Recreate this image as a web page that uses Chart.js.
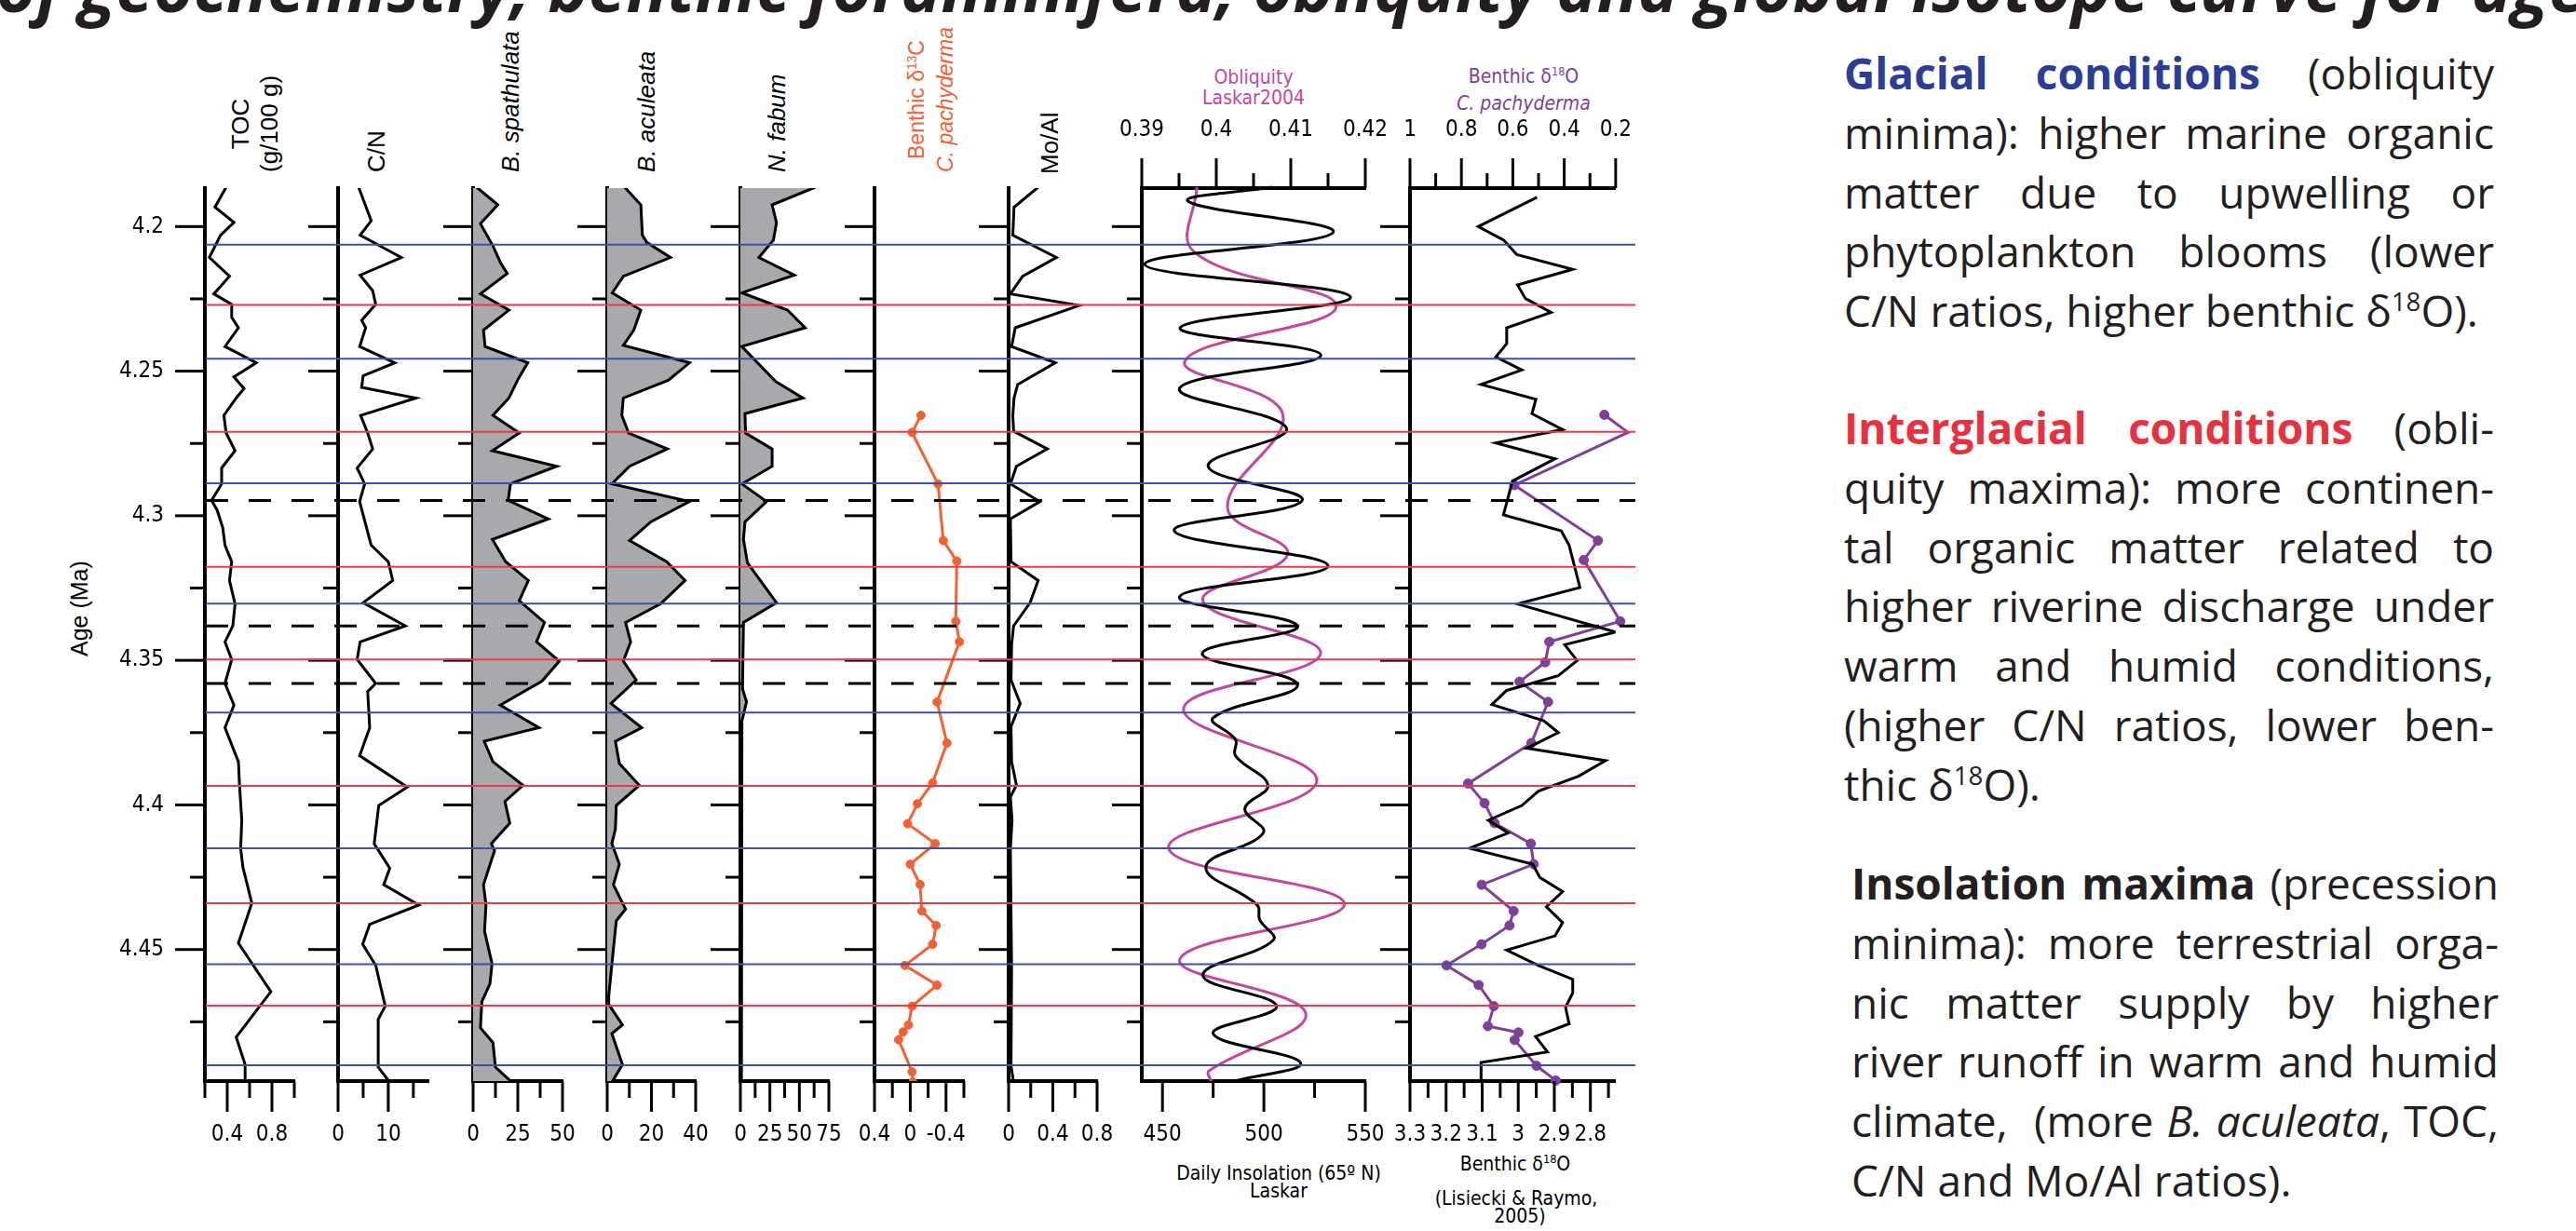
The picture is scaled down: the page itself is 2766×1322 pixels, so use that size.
<!DOCTYPE html>
<html>
<head>
<meta charset="utf-8">
<script src="https://cdn.jsdelivr.net/npm/chart.js"></script>
<style>
  html, body { margin: 0; padding: 0; background: #fff; }
  body { width: 2766px; height: 1322px; position: relative; overflow: hidden;
         font-family: 'Liberation Sans', Arial, sans-serif; color: #000; }
  canvas.layer { position: absolute; left: 0; top: 0; }
  .lbl { position: absolute; white-space: nowrap; }
  .narrow { font-family: 'Liberation Sans Narrow', 'DejaVu Sans Condensed', sans-serif; }
  .rot { position: absolute; white-space: nowrap; transform-origin: 0 0; transform: rotate(-90deg);
         font-size: 26px; line-height: 31px; text-align: center; }
  .para { position: absolute; font-family: 'Open Sans', sans-serif; font-size: 46px;
          line-height: 63.8px; color: #231f20; }
  .para .j { text-align: justify; text-align-last: justify; }
  sup { font-size: 0.6em; line-height: 0; vertical-align: 0.6em; }
  #title { position: absolute; left: -4px; top: -52px; white-space: nowrap; color: #231f20;
           font: italic 700 73px/73px 'Open Sans', sans-serif; }
</style>
</head>
<body>

<div id="title">of geochemistry, benthic foraminifera, obliquity and global isotope curve for age</div>

<!-- column headers -->
<div class="rot" style="left:242.5px; top:185px">TOC<br>(g/100 g)</div>
<div class="rot" style="left:388.5px; top:185px">C/N</div>
<div class="rot" style="left:532.5px; top:185px"><i>B. spathulata</i></div>
<div class="rot" style="left:678.5px; top:185px"><i>B. aculeata</i></div>
<div class="rot" style="left:818.5px; top:185px"><i>N. fabum</i></div>
<div class="rot" style="left:968.5px; top:185px; font-size:23px; color:#f26131">Benthic δ<sup>13</sup>C<br><i>C. pachyderma</i></div>
<div class="rot" style="left:1111.5px; top:187px">Mo/Al</div>
<div class="rot" style="left:70px; top:705px; font-size:25px; line-height:30px">Age (Ma)</div>

<div class="lbl narrow" style="left:1246px; top:72px; width:200px; text-align:center; font-size:21px; line-height:22px; color:#c4479c">Obliquity<br>Laskar2004</div>
<div class="lbl narrow" style="left:1536px; top:71px; width:200px; text-align:center; font-size:21px; line-height:22px; color:#80409a">Benthic δ<sup>18</sup>O</div>
<div class="lbl narrow" style="left:1536px; top:100px; width:200px; text-align:center; font-size:21px; line-height:22px; color:#80409a"><i>C. pachyderma</i></div>

<div class="lbl narrow" style="left:1223px; top:1249px; width:300px; text-align:center; font-size:21px; line-height:22px">Daily Insolation (65º N)</div>
<div class="lbl narrow" style="left:1223px; top:1268px; width:300px; text-align:center; font-size:21px; line-height:22px">Laskar</div>
<div class="lbl narrow" style="left:1477px; top:1239px; width:300px; text-align:center; font-size:21px; line-height:22px">Benthic δ<sup>18</sup>O</div>
<div class="lbl narrow" style="left:1478px; top:1276px; width:300px; text-align:center; font-size:21px; line-height:22px">(Lisiecki &amp; Raymo,</div>
<div class="lbl narrow" style="left:1482px; top:1295px; width:300px; text-align:center; font-size:21px; line-height:22px">2005)</div>

<!-- explanatory text -->
<div class="para" style="left:1980px; top:47px; width:698px">
  <div class="j"><b style="color:#2b3d97">Glacial conditions</b> (obliquity</div>
  <div class="j">minima): higher marine organic</div>
  <div class="j">matter due to upwelling or</div>
  <div class="j">phytoplankton blooms (lower</div>
  <div>C/N ratios, higher benthic δ<sup>18</sup>O).</div>
</div>
<div class="para" style="left:1980px; top:428px; width:698px">
  <div class="j"><b style="color:#e8313e">Interglacial conditions</b> (obli-</div>
  <div class="j">quity maxima): more continen-</div>
  <div class="j">tal organic matter related to</div>
  <div class="j">higher riverine discharge under</div>
  <div class="j">warm and humid conditions,</div>
  <div class="j">(higher C/N ratios, lower ben-</div>
  <div>thic δ<sup>18</sup>O).</div>
</div>
<div class="para" style="left:1988px; top:917px; width:695px">
  <div class="j"><b>Insolation maxima</b> (precession</div>
  <div class="j">minima): more terrestrial orga-</div>
  <div class="j">nic matter supply by higher</div>
  <div class="j">river runoff in warm and humid</div>
  <div class="j">climate,&nbsp; (more <i>B. aculeata</i>, TOC,</div>
  <div>C/N and Mo/Al ratios).</div>
</div>

<script>
// ---- age axis (Ma) ----
const ageTicks = [4.2, 4.25, 4.3, 4.35, 4.4, 4.45];
const ageMinor = [4.225, 4.275, 4.325, 4.375, 4.425, 4.475];

// ---- TOC (g/100 g) ----
const tocAge = [4.1864, 4.1933, 4.1986, 4.2030, 4.2107, 4.2172, 4.2233, 4.2269, 4.2314, 4.2350, 4.2415,
  4.2471, 4.2520, 4.2560, 4.2593, 4.2653, 4.2714, 4.2775, 4.2835, 4.2890, 4.2947, 4.2981, 4.3042, 4.3102,
  4.3159, 4.3224, 4.3305, 4.3381, 4.3436, 4.3497, 4.3580, 4.3655, 4.3733, 4.3851, 4.3932, 4.4053, 4.4150,
  4.4215, 4.4340, 4.4478, 4.4646, 4.4803, 4.4898, 4.4959];
const tocValue = [0.39, 0.29, 0.46, 0.34, 0.24, 0.42, 0.28, 0.44, 0.44, 0.50, 0.38,
  0.66, 0.46, 0.55, 0.48, 0.37, 0.39, 0.47, 0.35, 0.35, 0.26, 0.31, 0.36, 0.38,
  0.44, 0.42, 0.47, 0.45, 0.38, 0.44, 0.38, 0.46, 0.38, 0.50, 0.51, 0.53, 0.52,
  0.54, 0.62, 0.50, 0.79, 0.48, 0.56, 0.56];
const tocTicks = [0.4, 0.8];
const tocMinor = [0.2, 0.6, 1.0];

// ---- C/N ----
const cnAge = [4.1864, 4.1980, 4.2030, 4.2107, 4.2168, 4.2222, 4.2269, 4.2324, 4.2350, 4.2415, 4.2471,
  4.2516, 4.2556, 4.2593, 4.2653, 4.2714, 4.2769, 4.2835, 4.2890, 4.2951, 4.3102, 4.3159, 4.3224, 4.3301,
  4.3381, 4.3436, 4.3497, 4.3580, 4.3608, 4.3733, 4.3830, 4.3938, 4.4002, 4.4134, 4.4219, 4.4276, 4.4346,
  4.4413, 4.4482, 4.4555, 4.4696, 4.4741, 4.4907, 4.4959];
const cnValue = [4.1, 6.6, 4.4, 12.6, 4.4, 6.9, 7.5, 4.7, 5.5, 4.3, 11.3,
  5.0, 4.7, 15.5, 4.5, 5.9, 6.9, 3.8, 5.3, 4.3, 6.6, 10.0, 10.9, 5.0,
  13.4, 4.4, 3.8, 7.5, 5.9, 6.3, 4.3, 13.8, 8.1, 7.2, 10.3, 9.1, 16.1,
  6.3, 4.9, 7.5, 9.4, 8.0, 8.0, 10.3];
const cnTicks = [0, 10];
const cnMinor = [5, 15];

// ---- B. spathulata (%) ----
const bsAge = [4.1864, 4.1925, 4.1990, 4.2067, 4.2127, 4.2162, 4.2233, 4.2289, 4.2358, 4.2415, 4.2471,
  4.2526, 4.2593, 4.2653, 4.2714, 4.2775, 4.2829, 4.2890, 4.2947, 4.3011, 4.3082, 4.3159, 4.3224, 4.3294,
  4.3369, 4.3436, 4.3503, 4.3572, 4.3655, 4.3733, 4.3780, 4.3851, 4.3932, 4.3988, 4.4063, 4.4134, 4.4158,
  4.4276, 4.4346, 4.4437, 4.4549, 4.4619, 4.4680, 4.4771, 4.4822, 4.4907, 4.4959];
const bsValue = [2, 13.8, 4.1, 11.1, 15.5, 19.1, 4.1, 20.0, 5.8, 6.7, 30.6,
  25.3, 20.0, 11.1, 25.8, 10.8, 46.8, 20.9, 19.6, 42.1, 10.8, 18.2, 30.9, 25.8,
  39.9, 35.5, 48.2, 38.5, 15.2, 36.8, 6.2, 11.1, 27.9, 17.8, 20.5, 10.2, 12.0,
  5.8, 7.2, 6.4, 10.6, 9.4, 4.9, 4.1, 11.1, 12.5, 21.7];
const bsTicks = [0, 25, 50];
const bsMinor = [12.5, 37.5];

// ---- B. aculeata (%) ----
const baAge = [4.1864, 4.1925, 4.2030, 4.2055, 4.2107, 4.2172, 4.2229, 4.2289, 4.2358, 4.2411, 4.2471,
  4.2532, 4.2593, 4.2653, 4.2714, 4.2769, 4.2829, 4.2890, 4.2951, 4.3021, 4.3086, 4.3159, 4.3224, 4.3305,
  4.3369, 4.3436, 4.3503, 4.3568, 4.3649, 4.3733, 4.3780, 4.3857, 4.3932, 4.4002, 4.4083, 4.4134, 4.4205,
  4.4276, 4.4360, 4.4401, 4.4498, 4.4660, 4.4690, 4.4761, 4.4791, 4.4898, 4.4959];
const baValue = [7.9, 15.2, 15.9, 17.9, 28.6, 7.3, 2.3, 15.2, 12.0, 7.3, 37.2,
  27.6, 7.3, 6.6, 9.7, 27.2, 10.1, 2.1, 37.2, 19.7, 10.1, 26.9, 35.2, 24.1,
  8.3, 10.6, 7.3, 13.1, 1.7, 15.6, 3.7, 5.5, 14.5, 4.1, 3.7, 2.1, 5.5,
  2.8, 8.3, 4.1, 2.8, 0.7, 0.7, 6.9, 2.1, 6.9, 2.1];
const baTicks = [0, 20, 40];
const baMinor = [10, 30];

// ---- N. fabum (%) ----
const nfAge = [4.1864, 4.1925, 4.1986, 4.2047, 4.2107, 4.2168, 4.2229, 4.2289, 4.2350, 4.2415, 4.2536,
  4.2593, 4.2647, 4.2714, 4.2769, 4.2829, 4.2890, 4.2951, 4.3021, 4.3082, 4.3163, 4.3301, 4.3369, 4.3598,
  4.3644, 4.3709, 4.4300, 4.4959];
const nfValue = [63.5, 26.9, 30.6, 28.0, 15.7, 45.7, 1.3, 40.0, 54.9, 1.3, 30.0,
  53.0, 3.9, 4.4, 26.9, 26.9, 1.3, 22.2, 3.9, 2.6, 6.0, 30.6, 2.6, 1.8,
  5.2, 1.3, 1.0, 0.8];
const nfTicks = [0, 25, 50, 75];
const nfMinor = [12.5, 37.5, 62.5];

// ---- Benthic d13C, C. pachyderma ----
const c13Age = [4.2653, 4.2712, 4.2890, 4.3086, 4.3157, 4.3365, 4.3436, 4.3644, 4.3786, 4.3924, 4.3996,
  4.4065, 4.4134, 4.4205, 4.4275, 4.4367, 4.4417, 4.4482, 4.4555, 4.4623, 4.4696, 4.4761, 4.4785, 4.4812,
  4.4923, 4.4959];
const c13Value = [-0.12, -0.02, -0.31, -0.37, -0.52, -0.51, -0.55, -0.30, -0.41, -0.25, -0.08,
  0.03, -0.28, 0.00, -0.11, -0.13, -0.29, -0.25, 0.06, -0.30, -0.02, 0.02, 0.08, 0.13,
  -0.02, -0.03];
const c13Ticks = [0.4, 0, -0.4];
const c13Minor = [0.2, -0.2, -0.6];

// ---- Mo/Al ----
const moAge = [4.1864, 4.1933, 4.2030, 4.2107, 4.2172, 4.2233, 4.2273, 4.2350, 4.2415, 4.2471, 4.2546,
  4.2593, 4.2653, 4.2708, 4.2769, 4.2829, 4.2890, 4.2951, 4.3011, 4.3159, 4.3224, 4.3301, 4.3381, 4.3446,
  4.3568, 4.3649, 4.3729, 4.3851, 4.3932, 4.3972, 4.4053, 4.4154, 4.4559, 4.4902, 4.4959];
const moValue = [0.267, 0.049, 0.038, 0.432, 0.127, 0.016, 0.639, 0.060, 0.027, 0.423, 0.082,
  0.049, 0.038, 0.045, 0.350, 0.071, 0.016, 0.283, 0.016, 0.022, 0.267, 0.194, 0.045, 0.027,
  0.022, 0.105, 0.022, 0.027, 0.071, 0.016, 0.031, 0.016, 0.027, 0.022, 0.045];
const moTicks = [0, 0.4, 0.8];
const moMinor = [0.2, 0.6];

// ---- Daily insolation 65N (W/m2), Laskar ----
const insAge = [4.1864, 4.1913, 4.2020, 4.2131, 4.2243, 4.2350, 4.2445, 4.2560, 4.2698, 4.2829, 4.2947,
  4.3052, 4.3173, 4.3280, 4.3381, 4.3477, 4.3584, 4.3699, 4.3774, 4.3830, 4.3932, 4.4013, 4.4097, 4.4215,
  4.4346, 4.4397, 4.4468, 4.4589, 4.4696, 4.4791, 4.4892, 4.4955];
const insValue = [504.0, 462.7, 534.2, 441.3, 542.6, 458.7, 528.1, 458.4, 511.2, 472.5, 518.9,
  455.8, 531.6, 458.4, 516.6, 469.6, 516.6, 475.0, 486.0, 486.0, 502.0, 490.6, 499.7, 471.4,
  496.7, 497.9, 504.6, 469.9, 506.3, 475.0, 518.1, 485.7];
const insTicks = [450, 500, 550];
const insMinor = [475, 525];

// ---- Obliquity, Laskar2004 ----
const oblAge = [4.1864, 4.2087, 4.2277, 4.2465, 4.2647, 4.2971, 4.3133, 4.3294, 4.3477, 4.3669, 4.3917,
  4.4150, 4.4342, 4.4534, 4.4720, 4.4920, 4.4955];
const oblValue = [0.3974, 0.3970, 0.4161, 0.3958, 0.4089, 0.4015, 0.4096, 0.3982, 0.4140, 0.3956, 0.4135,
  0.3936, 0.4172, 0.3951, 0.4120, 0.3990, 0.3993];
const oblTicks = [0.39, 0.4, 0.41, 0.42];
const oblMinor = [0.395, 0.405, 0.415];

// ---- Benthic d18O stack (Lisiecki & Raymo, 2005) ----
const lrAge = [4.1899, 4.2000, 4.2047, 4.2097, 4.2148, 4.2202, 4.2249, 4.2297, 4.2350, 4.2405, 4.2451,
  4.2496, 4.2546, 4.2597, 4.2647, 4.2702, 4.2748, 4.2803, 4.2880, 4.2997, 4.3052, 4.3102, 4.3248, 4.3305,
  4.3402, 4.3446, 4.3501, 4.3553, 4.3604, 4.3653, 4.3709, 4.3750, 4.3804, 4.3847, 4.3901, 4.3952, 4.4002,
  4.4053, 4.4097, 4.4150, 4.4205, 4.4251, 4.4300, 4.4352, 4.4407, 4.4453, 4.4502, 4.4555, 4.4603, 4.4650,
  4.4700, 4.4757, 4.4801, 4.4854, 4.4891, 4.4957];
const lrValue = [2.948, 3.111, 3.040, 3.004, 2.849, 3.002, 2.980, 2.909, 3.032, 3.032, 3.062,
  2.990, 3.103, 2.951, 2.962, 2.877, 3.062, 2.898, 3.016, 3.041, 2.881, 2.859, 2.829, 3.002,
  2.730, 2.871, 2.837, 2.889, 3.032, 3.073, 2.929, 2.889, 2.976, 2.758, 2.833, 2.944, 2.990,
  3.083, 3.028, 3.135, 2.960, 2.940, 2.877, 2.922, 2.877, 2.898, 3.032, 2.944, 2.849, 2.849,
  2.869, 2.859, 2.952, 2.919, 3.103, 3.103];
const lrTicks = [3.3, 3.2, 3.1, 3.0, 2.9, 2.8];
const lrMinor = [3.25, 3.15, 3.05, 2.95, 2.85, 2.75];

// ---- Benthic d18O, C. pachyderma ----
const o18Age = [4.2651, 4.2712, 4.2894, 4.3086, 4.3153, 4.3365, 4.3436, 4.3507, 4.3574, 4.3644, 4.3786,
  4.3926, 4.3994, 4.4063, 4.4134, 4.4205, 4.4276, 4.4367, 4.4417, 4.4482, 4.4555, 4.4623, 4.4696, 4.4765,
  4.4787, 4.4813, 4.4902, 4.4953];
const o18Value = [0.244, 0.152, 0.594, 0.269, 0.324, 0.182, 0.458, 0.474, 0.574, 0.463, 0.528,
  0.774, 0.710, 0.671, 0.530, 0.519, 0.721, 0.597, 0.613, 0.722, 0.858, 0.733, 0.674, 0.697,
  0.578, 0.593, 0.508, 0.433];
const o18Ticks = [1, 0.8, 0.6, 0.4, 0.2];
const o18Minor = [0.9, 0.7, 0.5, 0.3];

// ---- marker horizons (Ma) ----
const glacialAges = [4.2063, 4.2457, 4.2888, 4.3304, 4.3681, 4.4150, 4.4551, 4.4900];
const interglacialAges = [4.2271, 4.2710, 4.3177, 4.3497, 4.3934, 4.4340, 4.4694];
const dashedAges = [4.2947, 4.3381, 4.3580];

// ---- layout ----
const W = 1800, H = 1322;
const PLOT_TOP = 202, PLOT_BOTTOM = 1161;
const AGE_MIN = 4.1867, AGE_MAX = 4.4955;
const YAXIS_W = 100, XAXIS_H = 90;   // axis boxes wide enough so labels are not clipped
const tickFont = { family: "'Liberation Sans Narrow', 'DejaVu Sans Condensed', sans-serif", size: 24 };

function pts(ages, vals) { return ages.map((a, i) => ({ x: vals[i], y: a })); }

function addCanvas() {
  const c = document.createElement('canvas');
  c.className = 'layer';
  c.width = W; c.height = H;
  c.style.width = W + 'px'; c.style.height = H + 'px';
  document.body.appendChild(c);
  return c;
}

// draws long and short tick marks through the scales
function tickMarks(spec) {
  return {
    id: 'tickMarks',
    afterDraw(chart) {
      const ctx = chart.ctx, area = chart.chartArea;
      ctx.save();
      ctx.strokeStyle = '#000';
      ctx.lineWidth = 3;
      for (const id in spec) {
        const scale = chart.scales[id], s = spec[id];
        const draw = (v, len) => {
          const p = scale.getPixelForValue(v);
          ctx.beginPath();
          if (scale.axis === 'y') { ctx.moveTo(area.left - len, p); ctx.lineTo(area.left, p); }
          else if (scale.position === 'top') { ctx.moveTo(p, area.top - len); ctx.lineTo(p, area.top); }
          else { ctx.moveTo(p, area.bottom); ctx.lineTo(p, area.bottom + len); }
          ctx.stroke();
        };
        s.major.forEach(v => draw(v, s.majorLen));
        s.minor.forEach(v => draw(v, s.minorLen));
      }
      ctx.restore();
    }
  };
}

function xAxis(position, ax) {
  return {
    type: 'linear', position, min: ax.min, max: ax.max, reverse: !!ax.reverse,
    afterFit: s => { s.height = XAXIS_H; },
    afterBuildTicks: s => { s.ticks = ax.ticks.map(v => ({ value: v })); },
    grid: { display: true, drawOnChartArea: false, drawTicks: false },
    border: { display: true, width: 4, color: '#000' },
    ticks: { padding: position === 'top' ? 48 : 43, autoSkip: false, maxRotation: 0, minRotation: 0,
             font: tickFont, color: '#000', callback: v => String(v) }
  };
}

function makePanel(p) {
  const hasTop = !!p.top;
  const scales = {
    y: {
      type: 'linear', position: 'left', min: AGE_MIN, max: AGE_MAX, reverse: true,
      afterFit: s => { s.width = YAXIS_W; },
      afterBuildTicks: s => { s.ticks = ageTicks.map(v => ({ value: v })); },
      grid: { display: true, drawOnChartArea: false, drawTicks: false },
      border: { display: true, width: 4, color: '#000' },
      ticks: { display: !!p.ageLabels, padding: 44, font: tickFont, color: '#000', callback: v => String(v) }
    },
    xb: xAxis('bottom', p.bottom)
  };
  const marks = {
    y: { major: ageTicks, minor: ageMinor, majorLen: 32, minorLen: 16 },
    xb: { major: p.bottom.ticks, minor: p.bottom.minor, majorLen: 33, minorLen: 18 }
  };
  if (hasTop) {
    scales.xt = xAxis('top', p.top);
    marks.xt = { major: p.top.ticks, minor: p.top.minor, majorLen: 32, minorLen: 16 };
  }
  new Chart(addCanvas(), {
    type: 'line',
    data: { datasets: p.datasets },
    options: {
      indexAxis: 'y',
      responsive: false, animation: false, devicePixelRatio: 1, events: [],
      layout: {
        autoPadding: false,
        padding: {
          left: p.left - YAXIS_W,
          right: W - p.right,
          top: PLOT_TOP - (hasTop ? XAXIS_H : 0),
          bottom: H - PLOT_BOTTOM - XAXIS_H
        }
      },
      scales,
      plugins: { legend: { display: false }, tooltip: { enabled: false } }
    },
    plugins: [tickMarks(marks)]
  });
}

function line(ages, vals, extra) {
  return Object.assign({
    data: pts(ages, vals), xAxisID: 'xb', yAxisID: 'y',
    borderColor: '#000', borderWidth: 3, pointRadius: 0, fill: false, tension: 0
  }, extra || {});
}
const GREY = '#a7a9ac';

makePanel({ left: 220, right: 316, ageLabels: true,
  bottom: { min: 0.2, max: 1.0, ticks: tocTicks, minor: tocMinor },
  datasets: [line(tocAge, tocValue)] });
makePanel({ left: 363, right: 460,
  bottom: { min: 0, max: 18, ticks: cnTicks, minor: cnMinor },
  datasets: [line(cnAge, cnValue)] });
makePanel({ left: 508, right: 604,
  bottom: { min: 0, max: 50, ticks: bsTicks, minor: bsMinor },
  datasets: [line(bsAge, bsValue, { fill: 'origin', backgroundColor: GREY })] });
makePanel({ left: 652, right: 747,
  bottom: { min: 0, max: 40, ticks: baTicks, minor: baMinor },
  datasets: [line(baAge, baValue, { fill: 'origin', backgroundColor: GREY })] });
makePanel({ left: 795, right: 890,
  bottom: { min: 0, max: 75, ticks: nfTicks, minor: nfMinor },
  datasets: [line(nfAge, nfValue, { fill: 'origin', backgroundColor: GREY })] });
makePanel({ left: 939, right: 1035,
  bottom: { min: -0.6, max: 0.4, reverse: true, ticks: c13Ticks, minor: c13Minor },
  datasets: [line(c13Age, c13Value, { borderColor: '#f26131', pointRadius: 4.5,
    pointBackgroundColor: '#f26131', pointBorderColor: '#f26131', pointBorderWidth: 1 })] });
makePanel({ left: 1083, right: 1178,
  bottom: { min: 0, max: 0.8, ticks: moTicks, minor: moMinor },
  datasets: [line(moAge, moValue)] });
makePanel({ left: 1226, right: 1466,
  bottom: { min: 439.8, max: 550, ticks: insTicks, minor: insMinor },
  top: { min: 0.39, max: 0.42, ticks: oblTicks, minor: oblMinor },
  datasets: [
    line(insAge, insValue, { tension: 0.4, clip: false }),
    line(oblAge, oblValue, { xAxisID: 'xt', borderColor: '#c4479c', tension: 0.4, clip: false })
  ] });
makePanel({ left: 1514, right: 1754,
  bottom: { min: 2.73, max: 3.3, reverse: true, ticks: lrTicks, minor: lrMinor },
  top: { min: 0.2, max: 1, reverse: true, ticks: o18Ticks, minor: o18Minor },
  datasets: [
    line(lrAge, lrValue),
    line(o18Age, o18Value, { xAxisID: 'xt', borderColor: '#80409a', pointRadius: 5, clip: false,
      pointBackgroundColor: '#80409a', pointBorderColor: '#80409a', pointBorderWidth: 1 })
  ] });

// ---- marker horizons across all panels ----
const LINES_LEFT = 221, LINES_RIGHT = 1756;
const horizon = (age, color, width, dash) => ({
  data: [{ x: 0, y: age }, { x: 1, y: age }],
  borderColor: color, borderWidth: width, borderDash: dash || [], pointRadius: 0, fill: false
});
new Chart(addCanvas(), {
  type: 'line',
  data: {
    datasets: [
      ...glacialAges.map(a => horizon(a, '#3f51a6', 2)),
      ...interglacialAges.map(a => horizon(a, '#ee3a46', 2)),
      ...dashedAges.map(a => horizon(a, '#000', 3, [24, 22]))
    ]
  },
  options: {
    responsive: false, animation: false, devicePixelRatio: 1, events: [],
    layout: { autoPadding: false,
      padding: { left: LINES_LEFT, right: W - LINES_RIGHT, top: PLOT_TOP, bottom: H - PLOT_BOTTOM } },
    scales: {
      x: { type: 'linear', min: 0, max: 1, display: false },
      y: { type: 'linear', min: AGE_MIN, max: AGE_MAX, reverse: true, display: false }
    },
    plugins: { legend: { display: false }, tooltip: { enabled: false } }
  }
});
</script>
</body>
</html>
